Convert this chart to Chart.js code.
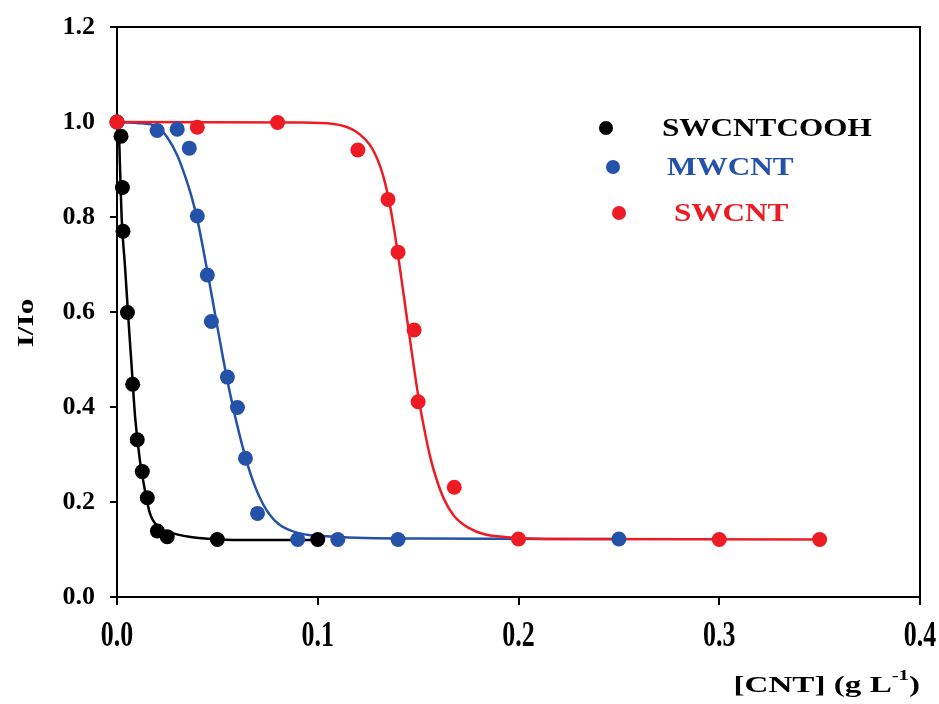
<!DOCTYPE html>
<html>
<head>
<meta charset="utf-8">
<script src="https://cdn.jsdelivr.net/npm/chart.js@4.4.1/dist/chart.umd.min.js"></script>
<style>
  body { margin: 0; background: #fff; }
  canvas { display: block; }
</style>
</head>
<body>
<canvas id="myChart" width="939" height="704"></canvas>
<script>
// data

// measured points
let swcntcoohX = [0, 0.002, 0.0027, 0.003, 0.0052, 0.0078, 0.0101, 0.0126, 0.0151, 0.0201, 0.025, 0.05, 0.1];
let swcntcoohY = [1.0, 0.97, 0.862, 0.77, 0.599, 0.448, 0.331, 0.264, 0.209, 0.139, 0.127, 0.121, 0.121];

let mwcntX = [0, 0.02, 0.03, 0.036, 0.04, 0.045, 0.047, 0.055, 0.06, 0.064, 0.07, 0.09, 0.11, 0.14, 0.25];
let mwcntY = [1.0, 0.982, 0.985, 0.945, 0.802, 0.678, 0.58, 0.463, 0.399, 0.292, 0.176, 0.121, 0.121, 0.121, 0.122];

let swcntX = [0, 0.04, 0.08, 0.12, 0.135, 0.14, 0.148, 0.15, 0.168, 0.2, 0.3, 0.35];
let swcntY = [1.0, 0.989, 0.999, 0.941, 0.837, 0.726, 0.562, 0.411, 0.231, 0.122, 0.121, 0.121];

// fitted curves
let swcntcoohFitX = [0, 0.0007, 0.0015, 0.0023, 0.004, 0.0056, 0.0073, 0.009, 0.0114, 0.0139, 0.0164, 0.0206, 0.028, 0.041, 0.058, 0.1];
let swcntcoohFitY = [1.0, 0.997, 0.906, 0.8, 0.695, 0.59, 0.485, 0.38, 0.288, 0.225, 0.176, 0.148, 0.134, 0.124, 0.12, 0.12];

let mwcntFitX = [0, 0.01, 0.02, 0.025, 0.03, 0.034, 0.037, 0.04, 0.0446, 0.0488, 0.053, 0.057, 0.0613, 0.0654, 0.0695, 0.0745, 0.081, 0.091, 0.108, 0.15, 0.25];
let mwcntFitY = [1.0, 0.998, 0.99, 0.968, 0.93, 0.885, 0.845, 0.795, 0.695, 0.597, 0.499, 0.415, 0.337, 0.274, 0.225, 0.183, 0.152, 0.134, 0.127, 0.123, 0.122];

let swcntFitX = [0, 0.091, 0.108, 0.119, 0.127, 0.132, 0.135, 0.138, 0.141, 0.144, 0.147, 0.15, 0.153, 0.156, 0.159, 0.163, 0.168, 0.175, 0.183, 0.194, 0.22, 0.35];
let swcntFitY = [1.0, 0.999, 0.996, 0.98, 0.945, 0.895, 0.845, 0.775, 0.69, 0.6, 0.51, 0.425, 0.355, 0.295, 0.25, 0.205, 0.17, 0.146, 0.132, 0.126, 0.122, 0.121];

let seriesNames = ["SWCNTCOOH", "MWCNT", "SWCNT"];
let seriesColors = ["#000000", "#2352a8", "#ed1c24"];

let xMin = 0, xMax = 0.4, xStep = 0.1;
let yMin = 0, yMax = 1.2, yStep = 0.2;
let xTitle = "[CNT] (g L";
let xTitleSup = "-1";
let yTitle = "I/Io";

// helpers

function toPoints(xs, ys) {
  let pts = [];
  for (let i = 0; i < xs.length; i++) {
    pts.push({ x: xs[i], y: ys[i] });
  }
  return pts;
}

function pointSet(label, xs, ys, color, order) {
  return {
    label: label,
    data: toPoints(xs, ys),
    showLine: false,
    pointRadius: 7.5,
    pointBackgroundColor: color,
    pointBorderWidth: 0,
    clip: false,
    order: order,
  };
}

function lineSet(xs, ys, color, order) {
  return {
    data: toPoints(xs, ys),
    showLine: true,
    borderColor: color,
    borderWidth: 2.5,
    pointRadius: 0,
    cubicInterpolationMode: "monotone",
    clip: false,
    order: order,
  };
}

// draw text squeezed or stretched sideways, like the picture's fonts
function drawText(ctx, text, x, y, align, size, color, sx) {
  ctx.save();
  ctx.translate(x, y);
  ctx.scale(sx, 1);
  ctx.font = "bold " + size + "px 'Liberation Serif', 'Times New Roman', serif";
  ctx.fillStyle = color;
  ctx.textAlign = align;
  ctx.textBaseline = "middle";
  ctx.fillText(text, 0, 0);
  ctx.restore();
}

// frame, tick labels, titles and legend
const decorPlugin = {
  id: "decor",
  afterDraw(chart) {
    let ctx = chart.ctx;
    let area = chart.chartArea;

    // top and right sides of the box
    ctx.save();
    ctx.strokeStyle = "#000";
    ctx.lineWidth = 2;
    ctx.beginPath();
    ctx.moveTo(area.left, area.top);
    ctx.lineTo(area.right, area.top);
    ctx.lineTo(area.right, area.bottom);
    ctx.stroke();
    ctx.restore();

    let xs = chart.scales.x;
    let ys = chart.scales.y;

    ys.ticks.forEach((t) => {
      drawText(ctx, t.value.toFixed(1), area.left - 22, ys.getPixelForValue(t.value), "right", 26, "#000", 1);
    });
    xs.ticks.forEach((t) => {
      drawText(ctx, t.value.toFixed(1), xs.getPixelForValue(t.value), area.bottom + 40, "center", 35, "#000", 0.74);
    });

    // y title, rotated
    ctx.save();
    ctx.translate(27, 323);
    ctx.rotate(-Math.PI / 2);
    drawText(ctx, yTitle, 0, 0, "center", 24, "#000", 1.3);
    ctx.restore();

    // x title with superscript
    ctx.save();
    let sx = 1.38;
    ctx.font = "bold 24px 'Liberation Serif', serif";
    let w1 = ctx.measureText(xTitle).width * sx;
    ctx.font = "bold 15px 'Liberation Serif', serif";
    let w2 = ctx.measureText(xTitleSup).width * sx;
    ctx.font = "bold 24px 'Liberation Serif', serif";
    let w3 = ctx.measureText(")").width * sx;
    ctx.restore();
    let right = area.right;
    let startX = right - (w1 + w2 + w3);
    let ty = area.bottom + 89;
    drawText(ctx, xTitle, startX, ty, "left", 24, "#000", sx);
    drawText(ctx, xTitleSup, startX + w1, ty - 10, "left", 15, "#000", sx);
    drawText(ctx, ")", startX + w1 + w2, ty, "left", 24, "#000", sx);

    // legend
    let legendDots = [[606, 128], [613, 167], [619, 213]];
    let legendText = [662, 667, 674];
    for (let i = 0; i < seriesNames.length; i++) {
      ctx.save();
      ctx.fillStyle = seriesColors[i];
      ctx.beginPath();
      ctx.arc(legendDots[i][0], legendDots[i][1], 7, 0, Math.PI * 2);
      ctx.fill();
      ctx.restore();
      drawText(ctx, seriesNames[i], legendText[i], legendDots[i][1] + 1, "left", 26, seriesColors[i], 1.2);
    }
  },
};

const data = {
  datasets: [
    pointSet(seriesNames[0], swcntcoohX, swcntcoohY, seriesColors[0], 2),
    pointSet(seriesNames[1], mwcntX, mwcntY, seriesColors[1], 1),
    pointSet(seriesNames[2], swcntX, swcntY, seriesColors[2], 0),
    lineSet(swcntcoohFitX, swcntcoohFitY, seriesColors[0], 5),
    lineSet(mwcntFitX, mwcntFitY, seriesColors[1], 4),
    lineSet(swcntFitX, swcntFitY, seriesColors[2], 3),
  ],
};

const config = {
  type: "scatter",
  data: data,
  options: {
    responsive: false,
    animation: false,
    devicePixelRatio: 1,
    layout: { padding: { left: 0, right: 19, top: 27, bottom: 0 } },
    plugins: {
      legend: { display: false },
      tooltip: { enabled: false },
    },
    scales: {
      x: {
        type: "linear",
        min: xMin,
        max: xMax,
        ticks: { stepSize: xStep, display: false },
        grid: { drawOnChartArea: false, drawTicks: true, tickLength: 8, color: "#000", lineWidth: 2 },
        border: { display: true, color: "#000", width: 2 },
        afterFit: (s) => { s.height = 107; },
      },
      y: {
        type: "linear",
        min: yMin,
        max: yMax,
        ticks: { stepSize: yStep, display: false },
        grid: { drawOnChartArea: false, drawTicks: true, tickLength: 7, color: "#000", lineWidth: 2 },
        border: { display: true, color: "#000", width: 2 },
        afterFit: (s) => { s.width = 117; },
      },
    },
  },
  plugins: [decorPlugin],
};

let canvasChart = document.getElementById("myChart").getContext("2d");
const myChart = new Chart(canvasChart, config);
</script>
</body>
</html>
